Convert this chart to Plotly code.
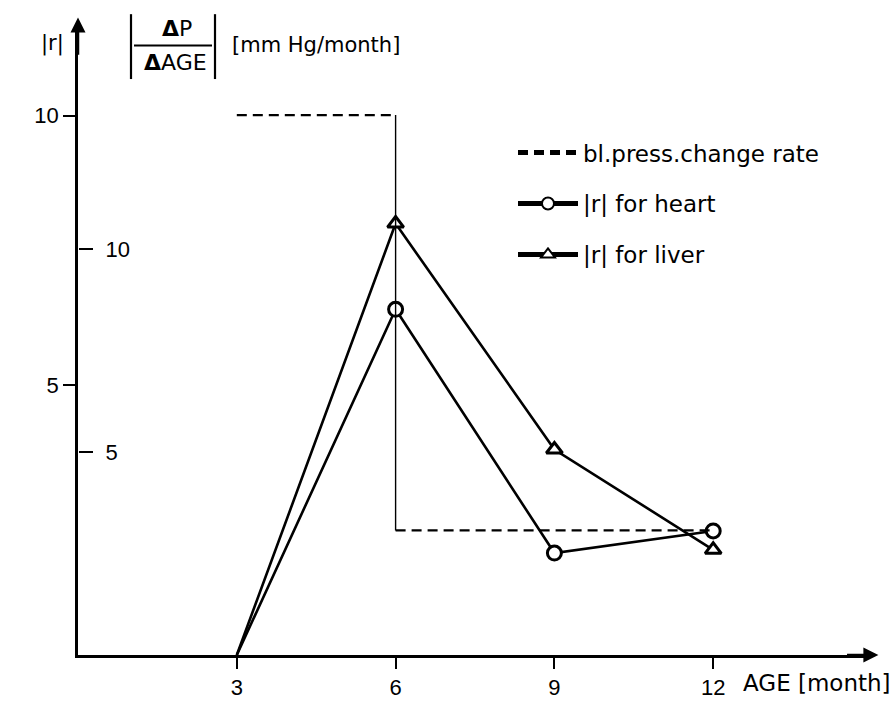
import plotly.graph_objects as go

# ---- data ----
months = [3, 6, 9, 12]
r_heart = [0, 6.41, 1.89, 2.30]
r_liver = [0, 8.00, 3.81, 1.95]
bp_start = [3, 6]
bp_end = [6, 12]
bp_rate = [13.3, 3.07]          # |dP/dAGE| [mm Hg/month]
x_ticks = [3, 6, 9, 12]
r_ticks = [5, 10]
bp_ticks = [5, 10]

W, H = 896, 712
L, R, T, B = 78, 24, 24, 46
PW, PH = W - L - R, H - T - B

def px(x):
    return (x - L) / PW

def py(y):
    return (H - B - y) / PH

TXT = "DejaVu Sans"
NUM = "Liberation Sans"
BLACK = "black"

fig = go.Figure()

# blood pressure change rate: dashed horizontal steps, thin solid connector
for i, (s, e, v) in enumerate(zip(bp_start, bp_end, bp_rate)):
    fig.add_trace(go.Scatter(
        x=[s, e], y=[v, v], yaxis="y2", mode="lines",
        line=dict(color=BLACK, width=2.3, dash="10px,6px"),
        name="bl.press.change rate", legendgroup="bp",
        showlegend=(i == 0), hoverinfo="skip"))
for i in range(len(bp_rate) - 1):
    fig.add_trace(go.Scatter(
        x=[bp_end[i], bp_start[i + 1]], y=[bp_rate[i], bp_rate[i + 1]],
        yaxis="y2", mode="lines", line=dict(color=BLACK, width=1.4),
        showlegend=False, hoverinfo="skip"))

msize = [0] + [14] * (len(months) - 1)
fig.add_trace(go.Scatter(
    x=months, y=r_heart, mode="lines+markers", name="|r| for heart",
    legendgroup="heart",
    line=dict(color=BLACK, width=2.6),
    marker=dict(symbol="circle", size=msize, color="white", opacity=1,
                line=dict(color=BLACK, width=3))))
fig.add_trace(go.Scatter(
    x=months, y=r_liver, mode="lines+markers", name="|r| for liver",
    legendgroup="liver",
    line=dict(color=BLACK, width=2.6),
    marker=dict(symbol="triangle-up", size=msize, color="white", opacity=1,
                line=dict(color=BLACK, width=3))))

XMAX, YMAX = 15.0, 11.7
Y2MAX = PH / ((H - B - 253) / 10.0)

fig.update_layout(
    width=W, height=H, margin=dict(l=L, r=R, t=T, b=B),
    paper_bgcolor="white", plot_bgcolor="white",
    font=dict(family=TXT, size=20, color=BLACK),
    xaxis=dict(range=[0, XMAX], showgrid=False, zeroline=False,
               showline=True, linecolor=BLACK, linewidth=2.5,
               ticks="outside", ticklen=11, tickwidth=2, tickcolor=BLACK,
               tickvals=x_ticks, tickfont=dict(family=NUM, size=22)),
    yaxis=dict(range=[0, YMAX], showgrid=False, zeroline=False,
               showline=True, linecolor=BLACK, linewidth=2.5,
               ticks="outside", ticklen=12, tickwidth=2, tickcolor=BLACK,
               tickvals=r_ticks, tickfont=dict(family=NUM, size=22)),
    yaxis2=dict(range=[0, Y2MAX], overlaying="y", anchor="free",
                position=0, side="right", showgrid=False, zeroline=False,
                showline=False, ticks="outside", ticklen=14, tickwidth=2,
                tickcolor=BLACK, tickvals=bp_ticks, ticklabelstandoff=8,
                tickfont=dict(family=NUM, size=22)),
    legend=dict(x=px(513), y=py(133), xanchor="left", yanchor="top",
                bgcolor="rgba(0,0,0,0)", tracegroupgap=18, itemwidth=60,
                itemsizing="constant",
                font=dict(family=TXT, size=23)),
    showlegend=True,
)

# axis arrows
fig.add_annotation(x=XMAX + 0.12, y=0, ax=XMAX - 0.5, ay=0, axref="x", ayref="y",
                   xref="x", yref="y", showarrow=True, arrowhead=2,
                   arrowsize=1.2, arrowwidth=2.5, arrowcolor=BLACK, text="")
fig.add_annotation(x=0, y=YMAX + 0.12, ax=0, ay=YMAX - 0.6, axref="x", ayref="y",
                   xref="x", yref="y", showarrow=True, arrowhead=2,
                   arrowsize=1.2, arrowwidth=2.5, arrowcolor=BLACK, text="")

# axis titles
def label(xp, yp, text, size, xanchor="center"):
    fig.add_annotation(x=px(xp), y=py(yp), xref="paper", yref="paper",
                       xanchor=xanchor, yanchor="middle", text=text,
                       showarrow=False, font=dict(size=size))

label(52, 44, "|r|", 21)
label(177, 29, "<b>Δ</b>P", 22)
label(175, 63, "<b>Δ</b>AGE", 22)
label(230, 45, "[mm Hg/month]", 21, xanchor="left")
label(741, 694, "AGE [month]", 23, xanchor="left")

for xb in (131, 215):
    fig.add_shape(type="line", xref="paper", yref="paper",
                  x0=px(xb), x1=px(xb), y0=py(14), y1=py(80),
                  line=dict(color=BLACK, width=2.2))
fig.add_shape(type="line", xref="paper", yref="paper",
              x0=px(134), x1=px(212), y0=py(46), y1=py(46),
              line=dict(color=BLACK, width=2))

fig.write_html("out.html")
